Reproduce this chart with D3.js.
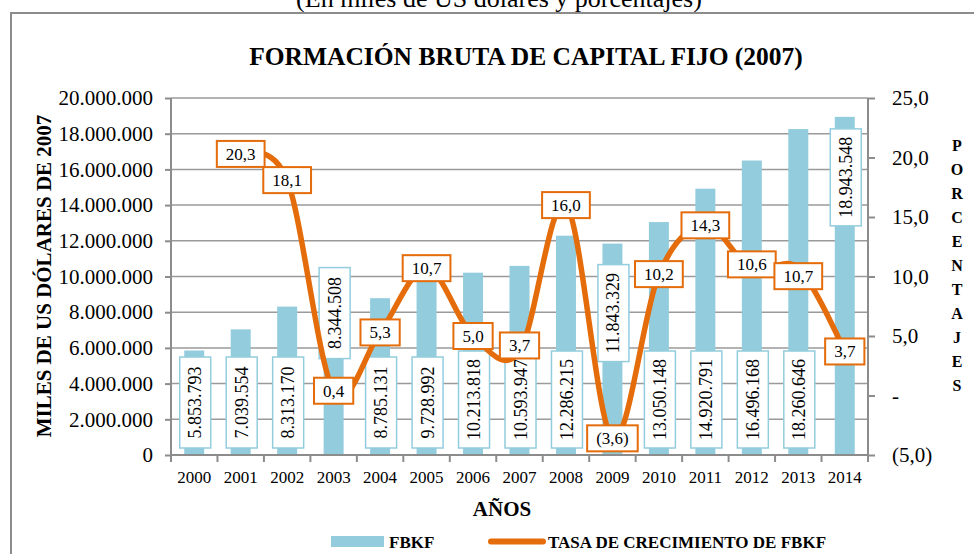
<!DOCTYPE html>
<html lang="es">
<head>
<meta charset="UTF-8">
<title>Formación Bruta de Capital Fijo</title>
<script src="https://d3js.org/d3.v7.min.js"></script>
<style>
  body { margin: 0; background: #fff; }
  svg { display: block; font-family: "Liberation Serif", "Times New Roman", serif; }
  .grid line { stroke: #9a9a9a; stroke-width: 1.5px; }
  .axis path, .axis line { stroke: #8c8c8c; stroke-width: 2px; }
</style>
</head>
<body>
<script>
// data
const years = ["2000","2001","2002","2003","2004","2005","2006","2007","2008","2009","2010","2011","2012","2013","2014"];
const fbkf = [5853793, 7039554, 8313170, 8344508, 8785131, 9728992, 10213818, 10593947,
              12286215, 11843329, 13050148, 14920791, 16496168, 18260646, 18943548];
const tasa = [null, 20.3, 18.1, 0.4, 5.3, 10.7, 5.0, 3.7, 16.0, -3.6, 10.2, 14.3, 10.6, 10.7, 3.7];
const leftTicks = [0, 2000000, 4000000, 6000000, 8000000, 10000000, 12000000, 14000000, 16000000, 18000000, 20000000];
const rightTicks = [-5, 0, 5, 10, 15, 20, 25];
// where excel put each bar label, and small nudges of the line labels
const barLabelPlace = ["base","base","base","raised","base","base","base","base","base","raised","base","base","base","base","end"];
const lineLabelNudge = { "2007": -6, "2012": -5, "2013": 8 };

const W = 974, H = 554;
const pL = 171, pR = 868, pT = 98, pB = 455;
const blue = "#93cddd", orange = "#e46c0a";

const es = d3.formatLocale({ decimal: ",", thousands: ".", grouping: [3], currency: ["", ""] });
const fmtInt = es.format(",d");
const fmt1 = es.format(".1f");
const fmtPct = v => v === 0 ? "-" : v < 0 ? "(" + fmt1(-v) + ")" : fmt1(v);

const svg = d3.select("body").append("svg").attr("width", W).attr("height", H);

// subtitle, clipped at top in the original
svg.append("text").attr("x", 499).attr("y", 7).attr("text-anchor", "middle")
   .attr("font-size", 26).text("(En miles de US dólares y porcentajes)");

// chart frame
svg.append("rect").attr("x", 11).attr("y", 13).attr("width", 1000).attr("height", 600)
   .attr("fill", "none").attr("stroke", "#8c8c8c").attr("stroke-width", 2);

svg.append("text").attr("x", 526).attr("y", 65).attr("text-anchor", "middle")
   .attr("font-size", 25.5).attr("font-weight", "bold")
   .text("FORMACIÓN BRUTA DE CAPITAL FIJO (2007)");

const x = d3.scaleBand().domain(years).range([pL, pR]);
const y = d3.scaleLinear().domain([0, 20000000]).range([pB, pT]);
const y2 = d3.scaleLinear().domain([-5, 25]).range([pB, pT]);

// gridlines
svg.append("g").attr("class", "grid")
   .selectAll("line").data(leftTicks.filter(d => d > 0)).enter().append("line")
   .attr("x1", pL).attr("x2", pR)
   .attr("y1", d => y(d)).attr("y2", d => y(d));

// bars
const bw = x.bandwidth() * 0.43;
svg.append("g").selectAll("rect").data(fbkf).enter().append("rect")
   .attr("x", (d, i) => x(years[i]) + x.bandwidth() / 2 - bw / 2)
   .attr("width", bw)
   .attr("y", d => y(d))
   .attr("height", d => pB - y(d))
   .attr("fill", blue);

// axes
const yAxis = svg.append("g").attr("class", "axis").attr("transform", `translate(${pL},0)`)
   .call(d3.axisLeft(y).tickValues(leftTicks).tickFormat(fmtInt).tickSize(6).tickPadding(12));
const y2Axis = svg.append("g").attr("class", "axis").attr("transform", `translate(${pR},0)`)
   .call(d3.axisRight(y2).tickValues(rightTicks).tickFormat(fmtPct).tickSize(7).tickPadding(16));
[yAxis, y2Axis].forEach(a => {
  a.select(".domain").attr("d", `M0,${pT}V${pB}`);
  a.selectAll("text").attr("font-size", 21).attr("fill", "#000")
   .attr("font-family", "Liberation Serif");
});
y2Axis.selectAll("text").attr("text-anchor", "start").attr("x", 24);

const xAxis = svg.append("g").attr("class", "axis").attr("transform", `translate(0,${pB})`);
xAxis.append("line").attr("x1", pL).attr("x2", pR).attr("y1", 0).attr("y2", 0);
xAxis.selectAll("line.tk").data(d3.range(years.length + 1)).enter().append("line")
   .attr("class", "tk")
   .attr("x1", i => pL + i * x.bandwidth()).attr("x2", i => pL + i * x.bandwidth())
   .attr("y1", 0).attr("y2", 7);
xAxis.selectAll("text").data(years).enter().append("text")
   .attr("x", d => x(d) + x.bandwidth() / 2).attr("y", 28)
   .attr("text-anchor", "middle").attr("font-size", 17).text(d => d);

// bar value labels
const barLab = svg.append("g").selectAll("g").data(fbkf).enter().append("g");
barLab.each(function (d, i) {
  const g = d3.select(this);
  const cx = x(years[i]) + x.bandwidth() / 2 + 1;
  const t = fmtInt(d);
  const h = t.length * 6 + 37;
  let y0;
  if (barLabelPlace[i] === "base") y0 = pB - 7 - h;
  else if (barLabelPlace[i] === "raised") y0 = y(7950000) - h / 2;
  else y0 = y(d) + 12;
  g.append("rect").attr("x", cx - 15.5).attr("y", y0).attr("width", 31).attr("height", h)
   .attr("fill", "#fff").attr("stroke", blue).attr("stroke-width", 1.5);
  g.append("text").attr("transform", `translate(${cx + 6},${y0 + h / 2}) rotate(-90)`)
   .attr("text-anchor", "middle").attr("font-size", 18).text(t);
});

// growth line
const pts = tasa.map((v, i) => [x(years[i]) + x.bandwidth() / 2, v, years[i]]).filter(p => p[1] !== null);
svg.append("path")
   .attr("d", d3.line().x(p => p[0]).y(p => y2(p[1])).curve(d3.curveCatmullRom.alpha(0))(pts))
   .attr("fill", "none").attr("stroke", orange).attr("stroke-width", 5.5)
   .attr("stroke-linejoin", "round");

const lineLab = svg.append("g").selectAll("g").data(pts).enter().append("g")
   .attr("transform", p => `translate(${p[0]},${y2(p[1]) + (lineLabelNudge[p[2]] || 0)})`);
lineLab.each(function (p) {
  const g = d3.select(this);
  const t = fmtPct(p[1]);
  const txt = g.append("text").attr("text-anchor", "middle").attr("y", 6)
   .attr("font-size", 17).text(t);
  const w = txt.node().getComputedTextLength() + 18;
  g.insert("rect", "text").attr("x", -w / 2).attr("y", -13).attr("width", w).attr("height", 26)
   .attr("fill", "#fff").attr("stroke", orange).attr("stroke-width", 2);
});

// axis titles
svg.append("text").attr("transform", "translate(51,276) rotate(-90)")
   .attr("text-anchor", "middle").attr("font-size", 21).attr("font-weight", "bold")
   .text("MILES DE US DÓLARES DE 2007");
svg.append("g").selectAll("text").data("PORCENTAJES".split("")).enter().append("text")
   .attr("x", 957).attr("y", (d, i) => 151 + i * 24).attr("text-anchor", "middle")
   .attr("font-size", 16).attr("font-weight", "bold").text(d => d);
svg.append("text").attr("x", 502).attr("y", 516).attr("text-anchor", "middle")
   .attr("font-size", 21).attr("font-weight", "bold").text("AÑOS");

// legend
const leg = svg.append("g");
leg.append("rect").attr("x", 331).attr("y", 536).attr("width", 53).attr("height", 11).attr("fill", blue);
leg.append("text").attr("x", 389).attr("y", 548).attr("font-size", 17).attr("font-weight", "bold").text("FBKF");
leg.append("line").attr("x1", 491).attr("x2", 543).attr("y1", 541.5).attr("y2", 541.5)
   .attr("stroke", orange).attr("stroke-width", 6).attr("stroke-linecap", "round");
leg.append("text").attr("x", 548).attr("y", 548).attr("font-size", 17).attr("font-weight", "bold")
   .text("TASA DE CRECIMIENTO DE FBKF");
</script>
</body>
</html>
